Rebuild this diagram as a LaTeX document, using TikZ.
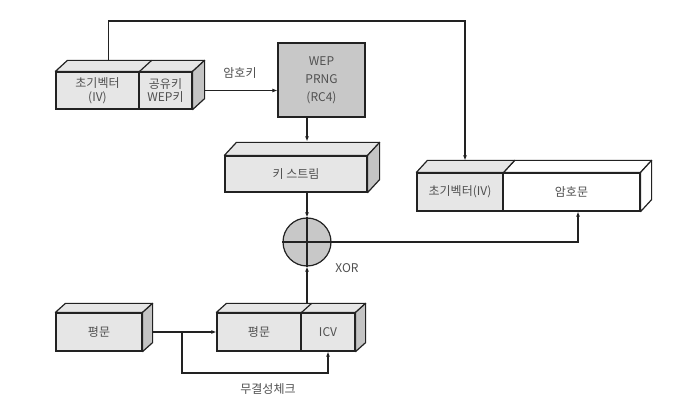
\documentclass[tikz,border=0pt]{standalone}
\usepackage{fontspec}
\setmainfont{Noto Sans CJK KR}
\usetikzlibrary{calc,arrows.meta}
\definecolor{facelight}{HTML}{E6E6E6}
\definecolor{faceside}{HTML}{C4C4C4}
\definecolor{facemid}{HTML}{C8C8C8}
\definecolor{txt}{HTML}{505050}
\definecolor{ln}{HTML}{222222}
\tikzset{
  x=1pt,y=-1pt,
  face/.style={draw=ln,line width=1.2pt,fill=facelight,inner sep=0pt,align=center,text=txt,font=\fontsize{12}{13.5}\selectfont},
  whiteface/.style={face,fill=white},
  topface/.style={draw=ln,line width=1.2pt,fill=facelight,line join=round},
  sideface/.style={draw=ln,line width=1.2pt,fill=faceside,line join=round},
  conn/.style={draw=ln,line width=1.2pt},
  arr/.style={conn,-{Latex[length=5pt,width=4pt]}},
  lbl/.style={text=txt,font=\fontsize{12}{13.5}\selectfont,inner sep=0pt}
}
% #1 left node, #2 right node, #3 dx, #4 dy
\newcommand\depthfaces[4]{%
  \filldraw[topface] (#1.north west) -- ++(#3,-#4) -- ($(#2.north east)+(#3,-#4)$) -- (#2.north east) -- cycle;
  \filldraw[sideface] (#2.north east) -- ++(#3,-#4) -- ($(#2.south east)+(#3,-#4)$) -- (#2.south east) -- cycle;
}
\newcommand\depthsplit[3]{%
  \draw[conn] (#1.north east) -- ++(#2,-#3);
}
\begin{document}
\begin{tikzpicture}
\useasboundingbox (0,0) rectangle (694,414);
\fill[white] (0,0) rectangle (694,414);

% IV + shared key box
\node[face,minimum width=83pt,minimum height=37pt] (iv) at (97.5,90.5) {초기벡터\\(IV)};
\node[face,minimum width=53pt,minimum height=37pt] (wep) at (165.5,90.5) {공유키\\WEP키};
\depthfaces{iv}{wep}{12}{11}
\depthsplit{iv}{12}{11}

% PRNG
\node[face,fill=facemid,minimum width=87pt,minimum height=74pt,font=\fontsize{12}{18}\selectfont] (prng) at (321.5,80) {WEP\\PRNG\\(RC4)};

% key stream
\node[face,minimum width=142pt,minimum height=36pt] (ks) at (296,174) {키 스트림};
\depthfaces{ks}{ks}{12}{13}

% XOR
\node[draw=ln,line width=1.2pt,fill=facemid,circle,minimum size=48pt,inner sep=0pt] (xor) at (307,242) {};
\draw[conn] (xor.north) -- (xor.south);
\draw[conn] (xor.west) -- (xor.east);
\node[lbl] (xorl) at (347,268) {XOR};

% ciphertext box
\node[face,minimum width=86pt,minimum height=38pt] (ivc) at (460,192) {초기벡터(IV)};
\node[whiteface,minimum width=137pt,minimum height=38pt] (ct) at (571.5,192) {암호문};
\filldraw[topface,fill=white] (ivc.north east) -- ++(11,-12) -- ($(ct.north east)+(11,-12)$) -- (ct.north east) -- cycle;
\filldraw[topface] (ivc.north west) -- ++(11,-12) -- ($(ivc.north east)+(11,-12)$) -- (ivc.north east) -- cycle;
\filldraw[sideface,fill=white] (ct.north east) -- ++(11,-12) -- ($(ct.south east)+(11,-12)$) -- (ct.south east) -- cycle;

% plaintext box
\node[face,minimum width=86pt,minimum height=38pt] (pt1) at (99,332) {평문};
\depthfaces{pt1}{pt1}{10}{9}

% plaintext + ICV box
\node[face,minimum width=84pt,minimum height=38pt] (pt2) at (259,332) {평문};
\node[face,minimum width=54pt,minimum height=38pt] (icv) at (328,332) {ICV};
\depthfaces{pt2}{icv}{10}{9}
\depthsplit{pt2}{10}{9}

% connectors
\coordinate (ivtop) at ($(iv.north west)+(53,-11)$);
\coordinate (corner1) at (ivtop |- 0,21);
\coordinate (ivctop) at ($(ivc.north)+(5,-12)$);
\draw[arr] (ivtop) -- (corner1) -- (corner1 -| ivctop) -- (ivctop);

\coordinate (wepout) at ($(wep.east)+(12,0)$);
\draw[arr] (wepout) -- (wepout -| prng.west);
\node[lbl] (keyl) at (240,73) {암호키};

\coordinate (kstop) at ($(ks.north -| xor.center)+(0,-14)$);
\draw[arr] (prng.south -| xor.center) -- (kstop);
\draw[arr] (ks.south -| xor.center) -- (xor.north);

\coordinate (ctin) at ($(ct.south)+(6.5,0)$);
\draw[arr] (xor.east) -- (xor.east -| ctin) -- (ctin);

\coordinate (icvtop) at ($(pt2.north -| xor.center)+(0,-9)$);
\draw[arr] (icvtop) -- (xor.south);

\coordinate (ptout) at ($(pt1.east)+(10,0)$);
\draw[arr] (ptout) -- (pt2.west);
\coordinate (branch) at (182,332);
\coordinate (lowy) at (182,373);
\draw[arr] (branch) -- (lowy) -- (lowy -| icv.south) -- (icv.south);
\node[lbl] (chk) at (268,389) {무결성체크};
\end{tikzpicture}
\end{document}
